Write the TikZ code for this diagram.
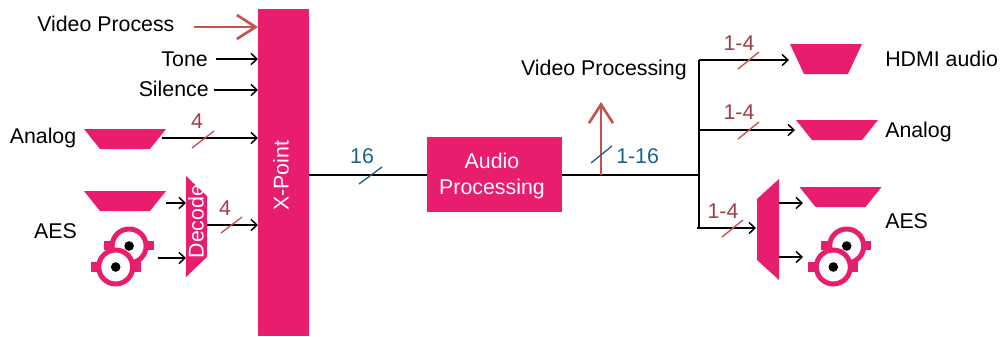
\documentclass[tikz,border=0pt]{standalone}
\usepackage{fontspec}
\setmainfont{Liberation Sans}
\usetikzlibrary{arrows.meta}
\definecolor{pinkbox}{HTML}{E91D6D}
\definecolor{redline}{HTML}{C4534F}
\definecolor{redtext}{HTML}{A23C48}
\definecolor{blueline}{HTML}{1F6287}
\tikzset{
  lab/.style={inner sep=0pt,font=\fontsize{16}{19}\selectfont},
  redlab/.style={lab,text=redtext},
  bluelab/.style={lab,text=blueline},
  whitelab/.style={lab,text=white,align=center},
  box/.style={fill=pinkbox,inner sep=0pt,outer sep=0pt},
  sig/.style={line width=1.1pt,-{Straight Barb[length=4.5pt,width=8.5pt]}},
  wire/.style={line width=1.1pt},
  vid/.style={line width=2pt,redline,-{Straight Barb[length=14pt,width=18pt]}},
  tickred/.style={line width=1pt,redline},
  tickblue/.style={line width=1pt,blueline},
  trap/.pic={
    \fill[pinkbox] (-41,-10) -- (41,-10) -- (25,10) -- (-25,10) -- cycle;
  },
  reel/.pic={
    \fill[pinkbox] (-12,-26) rectangle (38,-17);
    \draw[pinkbox,line width=3.75pt,fill=white] (13.4,-21) circle (17);
    \fill (13.4,-21) circle (3.6pt);
    \fill[pinkbox] (-25,-5) rectangle (25,5);
    \draw[pinkbox,line width=3.75pt,fill=white] (0,0) circle (17);
    \fill (0,0) circle (3.6pt);
  },
}
\begin{document}
\begin{tikzpicture}[x=0.75pt,y=-0.75pt]
\useasboundingbox (0,0) rectangle (1002,336);

% left side
\node[box,minimum width=38.25pt,minimum height=245.25pt] (xp) at (283.5,172.5) {};
\node[whitelab,rotate=90] (xplab) at (281,176) {X-Point};
\node[lab,anchor=west] (vp) at (37,24) {Video Process};
\node[lab,anchor=east] (tone) at (208,59) {Tone};
\node[lab,anchor=east] (sil) at (209,89) {Silence};
\node[lab,anchor=east] (an) at (76.5,138) {Analog};
\node[lab,anchor=east] (aes) at (77,231) {AES};
\pic at (125,139) {trap};
\pic at (125,201) {trap};
\fill[pinkbox] (186,176) -- (207,196) -- (207,257) -- (186,277) -- cycle;
\node[whitelab,rotate=90] (declab) at (196,218) {Decoder};
\pic at (115.7,267) {reel};
\coordinate (vs) at (194,27);
\coordinate (ts) at (216,59);
\coordinate (ss) at (214,90);
\coordinate (t1) at (162,138);
\coordinate (t2) at (166,203);
\coordinate (r1) at (158,258);
\coordinate (d1) at (186,203);
\coordinate (d2) at (186,258);
\coordinate (d3) at (207,225);

\draw[vid] (vs) -- (vs -| xp.west);
\draw[sig] (ts) -- (ts -| xp.west);
\draw[sig] (ss) -- (ss -| xp.west);
\draw[sig] (t1) -- (t1 -| xp.west);
\draw[sig] (t2) -- (d1);
\draw[sig] (r1) -- (d2);
\draw[sig] (d3) -- (d3 -| xp.west);

\draw[tickred] (192,148) -- ++(22,-17);
\draw[tickred] (221,233) -- ++(21,-16);
\node[redlab] (n4a) at (197,121) {4};
\node[redlab] (n4b) at (225,208) {4};

% middle
\node[box,minimum width=101.25pt,minimum height=56.25pt] (ap) at (494.5,174.5) {};
\node[whitelab] (aplab) at (492,176) {Audio\\[1pt]Processing};
\coordinate (j0) at (699,175);
\coordinate (j1) at (699,60);
\coordinate (j2) at (699,130);
\coordinate (j3) at (699,228);
\coordinate (up) at (601,175);
\coordinate (uq) at (601,102);
\node[lab,anchor=east] (vpg) at (687,70) {Video Processing};
\draw[wire] (xp.east |- j0) -- (ap.west |- j0);
\draw[wire] (ap.east |- j0) -- (j0);
\draw[vid] (up) -- (uq);
\draw[tickblue] (359,184) -- ++(23,-17);
\draw[tickblue] (591,163) -- ++(21,-17);
\node[bluelab] (n16) at (362,156) {16};
\node[bluelab,anchor=west] (n116) at (616,156) {1-16};

% right side
\fill[pinkbox] (790,44) -- (862,44) -- (848,74) -- (804,74) -- cycle;
\pic at (837,130) {trap};
\pic at (840.5,197) {trap};
\fill[pinkbox] (757,199) -- (779,179) -- (779,280) -- (757,260) -- cycle;
\pic at (833.3,267) {reel};
\node[lab,anchor=west] (hd) at (885,59) {HDMI audio};
\node[lab,anchor=west] (an2) at (885,132) {Analog};
\node[lab,anchor=west] (aes2) at (885,221) {AES};
\coordinate (e1) at (789,60);
\coordinate (e2) at (795,130);
\coordinate (e3a) at (697,228);
\coordinate (e3) at (756,228);
\coordinate (m1) at (779,203);
\coordinate (m2) at (779,257);
\coordinate (e4) at (803,203);
\coordinate (e5) at (803,257);
\draw[wire] (j1) -- (j3);
\draw[sig] (j1) -- (e1);
\draw[sig] (j2) -- (e2);
\draw[sig] (e3a) -- (e3);
\draw[sig] (m1) -- (e4);
\draw[sig] (m2) -- (e5);
\draw[tickred] (738,69) -- ++(21,-17);
\draw[tickred] (738,139) -- ++(21,-17);
\draw[tickred] (722,237) -- ++(21,-17);
\node[redlab] (n14a) at (739,43) {1-4};
\node[redlab] (n14b) at (739,112) {1-4};
\node[redlab] (n14c) at (723,211) {1-4};

\end{tikzpicture}
\end{document}
